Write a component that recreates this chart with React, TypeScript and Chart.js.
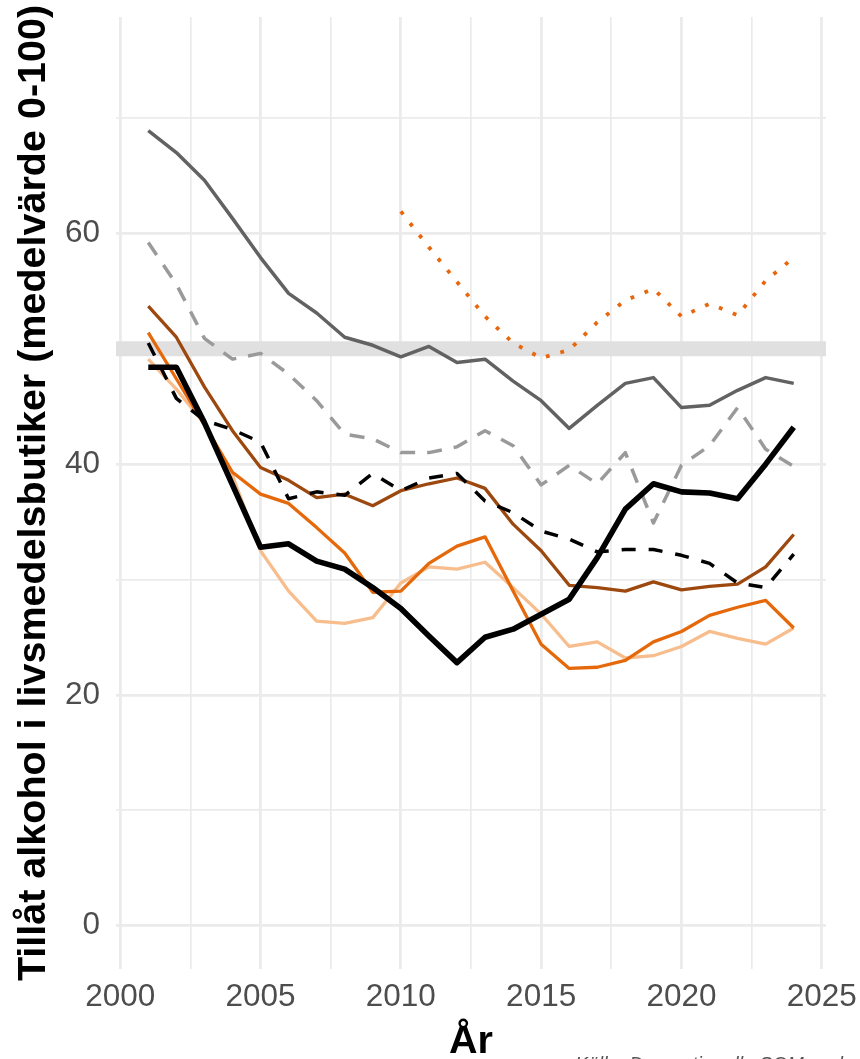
import React, { useEffect, useRef } from "react";
import { Chart, registerables } from "chart.js";

Chart.register(...registerables);

// ---- Data -------------------------------------------------------------
const years = [
  2001, 2002, 2003, 2004, 2005, 2006, 2007, 2008, 2009, 2010, 2011, 2012,
  2013, 2014, 2015, 2016, 2017, 2018, 2019, 2020, 2021, 2022, 2023, 2024,
];

const graySolid = [
  68.9, 67.0, 64.6, 61.3, 57.9, 54.8, 53.1, 51.0, 50.3, 49.3, 50.2, 48.8,
  49.1, 47.2, 45.5, 43.1, 45.1, 47.0, 47.5, 44.9, 45.1, 46.4, 47.5, 47.0,
];
const grayDashed = [
  59.2, 55.6, 50.9, 49.1, 49.6, 47.8, 45.5, 42.6, 42.2, 41.0, 41.0, 41.5,
  42.9, 41.6, 38.2, 39.9, 38.3, 41.0, 34.9, 39.9, 41.6, 44.9, 41.3, 39.8,
];
const orangeDotted = [
  null, null, null, null, null, null, null, null, null, 61.9, 58.8, 55.8,
  52.8, 50.5, 49.2, 49.9, 52.3, 54.2, 55.2, 52.8, 53.9, 52.9, 55.9, 57.9,
];
const brownSolid = [
  53.7, 51.0, 46.7, 42.9, 39.7, 38.6, 37.1, 37.4, 36.4, 37.7, 38.3, 38.8,
  37.9, 34.8, 32.5, 29.5, 29.3, 29.0, 29.8, 29.1, 29.4, 29.6, 31.1, 33.9,
];
const orangeSolid = [
  51.4, 47.4, 43.4, 39.3, 37.4, 36.6, 34.5, 32.3, 28.9, 29.0, 31.4, 32.9,
  33.7, 29.0, 24.4, 22.3, 22.4, 23.0, 24.6, 25.5, 26.9, 27.6, 28.2, 25.8,
];
const lightOrangeSolid = [
  49.1, 46.5, 43.5, 39.0, 32.5, 29.0, 26.4, 26.2, 26.7, 29.7, 31.1, 30.9,
  31.5, 29.3, 27.0, 24.2, 24.6, 23.2, 23.4, 24.2, 25.5, 24.9, 24.4, 25.8,
];
const blackThick = [
  48.4, 48.4, 43.6, 38.2, 32.8, 33.1, 31.6, 30.9, 29.3, 27.5, 25.1, 22.8,
  25.0, 25.7, 27.0, 28.3, 31.9, 36.1, 38.3, 37.6, 37.5, 37.0, 40.0, 43.2,
];
const blackDashed = [
  50.5, 45.7, 43.8, 43.0, 41.9, 37.0, 37.6, 37.3, 39.2, 37.7, 38.8, 39.2,
  36.8, 35.8, 34.2, 33.5, 32.4, 32.6, 32.6, 32.1, 31.4, 29.7, 29.3, 32.2,
];

const referenceLevel = 50;
const xLimits = [1999.85, 2025.15];
const yLimits = [-3.75, 78.75];
const xTickLabels = [2000, 2005, 2010, 2015, 2020, 2025];
const yTickLabels = [0, 20, 40, 60];

const yTitle = "Tillåt alkohol i livsmedelsbutiker (medelvärde 0-100)";
const xTitle = "År";
const caption = "Källa: Den nationella SOM-undersökningen";

// ----------------------------------------------------------------------
const FONT = '"Liberation Sans", Arial, Helvetica, sans-serif';

const toPoints = (vals: (number | null)[]) =>
  years
    .map((yr, i) => ({ x: yr, y: vals[i] }))
    .filter((p) => p.y !== null && p.y !== undefined);

const textPlugin = {
  id: "texts",
  afterDraw(chart: any) {
    const ctx = chart.ctx as CanvasRenderingContext2D;
    const ca = chart.chartArea;
    ctx.save();
    ctx.fillStyle = "#000000";
    ctx.font = `bold 39.5px ${FONT}`;
    ctx.textAlign = "center";
    ctx.textBaseline = "alphabetic";
    ctx.save();
    ctx.translate(45, (ca.top + ca.bottom) / 2);
    ctx.rotate(-Math.PI / 2);
    ctx.fillText(yTitle, 0, 0);
    ctx.restore();
    ctx.fillText(xTitle, (ca.left + ca.right) / 2, 1053);
    ctx.font = `italic 19.5px ${FONT}`;
    ctx.fillStyle = "#555555";
    ctx.textAlign = "left";
    ctx.fillText(caption, 575, 1071);
    ctx.restore();
  },
};

const zeroPad = (s: any) => {
  s.paddingTop = 0;
  s.paddingBottom = 0;
  s.paddingLeft = 0;
  s.paddingRight = 0;
};

export default function App() {
  const ref = useRef<HTMLCanvasElement | null>(null);

  useEffect(() => {
    if (!ref.current) return;
    const line = (
      data: (number | null)[],
      color: string,
      width: number,
      dash: number[] = [],
      order = 1
    ) => ({
      data: toPoints(data),
      borderColor: color,
      backgroundColor: color,
      borderWidth: width,
      borderDash: dash,
      borderJoinStyle: "round" as const,
      borderCapStyle: "butt" as const,
      pointRadius: 0,
      fill: false,
      tension: 0,
      order,
    });

    const chart = new Chart(ref.current, {
      type: "line",
      data: {
        datasets: [
          {
            data: [
              { x: xLimits[0], y: referenceLevel },
              { x: xLimits[1], y: referenceLevel },
            ],
            borderColor: "#e0e0e0",
            borderWidth: 15,
            pointRadius: 0,
            borderCapStyle: "butt",
            order: 100,
          } as any,
          line(graySolid, "#626262", 3.5, [], 9),
          line(grayDashed, "#9a9a9a", 3.5, [15, 12], 8),
          line(orangeDotted, "#e8670c", 3.8, [3.8, 11.2], 7),
          line(brownSolid, "#9c480e", 3.3, [], 6),
          line(lightOrangeSolid, "#f8bd8c", 3.3, [], 5),
          line(orangeSolid, "#e5690b", 3.3, [], 4),
          line(blackDashed, "#000000", 3.5, [14, 13], 3),
          line(blackThick, "#000000", 5.6, [], 2),
        ],
      },
      options: {
        animation: false,
        responsive: false,
        devicePixelRatio: 1,
        layout: { padding: { top: 17, right: 34, left: 0, bottom: 0 } },
        plugins: {
          legend: { display: false },
          tooltip: { enabled: false },
          title: { display: false },
        },
        scales: {
          x: {
            type: "linear",
            min: xLimits[0],
            max: xLimits[1],
            border: { display: false },
            grid: {
              drawTicks: false,
              color: "#ebebeb",
              lineWidth: (c: any) =>
                c.tick && xTickLabels.includes(c.tick.value) ? 2.8 : 1.7,
            },
            ticks: {
              stepSize: 2.5,
              includeBounds: false,
              autoSkip: false,
              maxRotation: 0,
              minRotation: 0,
              padding: 9,
              color: "#4d4d4d",
              font: { family: FONT, size: 31.5 },
              callback: (v: any) =>
                xTickLabels.includes(Number(v)) ? String(v) : "",
            },
            afterFit: (s: any) => {
              s.height = 90;
              zeroPad(s);
            },
          },
          y: {
            type: "linear",
            min: yLimits[0],
            max: yLimits[1],
            border: { display: false },
            grid: {
              drawTicks: false,
              color: "#ebebeb",
              lineWidth: (c: any) =>
                c.tick && yTickLabels.includes(c.tick.value) ? 2.8 : 1.7,
            },
            ticks: {
              stepSize: 10,
              includeBounds: false,
              autoSkip: false,
              padding: 16,
              color: "#4d4d4d",
              font: { family: FONT, size: 31.5 },
              callback: (v: any) =>
                yTickLabels.includes(Number(v)) ? String(v) : "",
            },
            afterFit: (s: any) => {
              s.width = 116;
              zeroPad(s);
            },
          },
        },
      },
      plugins: [textPlugin],
    });
    return () => chart.destroy();
  }, []);

  return (
    <div
      style={{
        position: "absolute",
        left: 0,
        top: 0,
        width: 860,
        height: 1059,
        background: "#ffffff",
        overflow: "hidden",
      }}
    >
      <canvas ref={ref} width={860} height={1059} />
    </div>
  );
}
